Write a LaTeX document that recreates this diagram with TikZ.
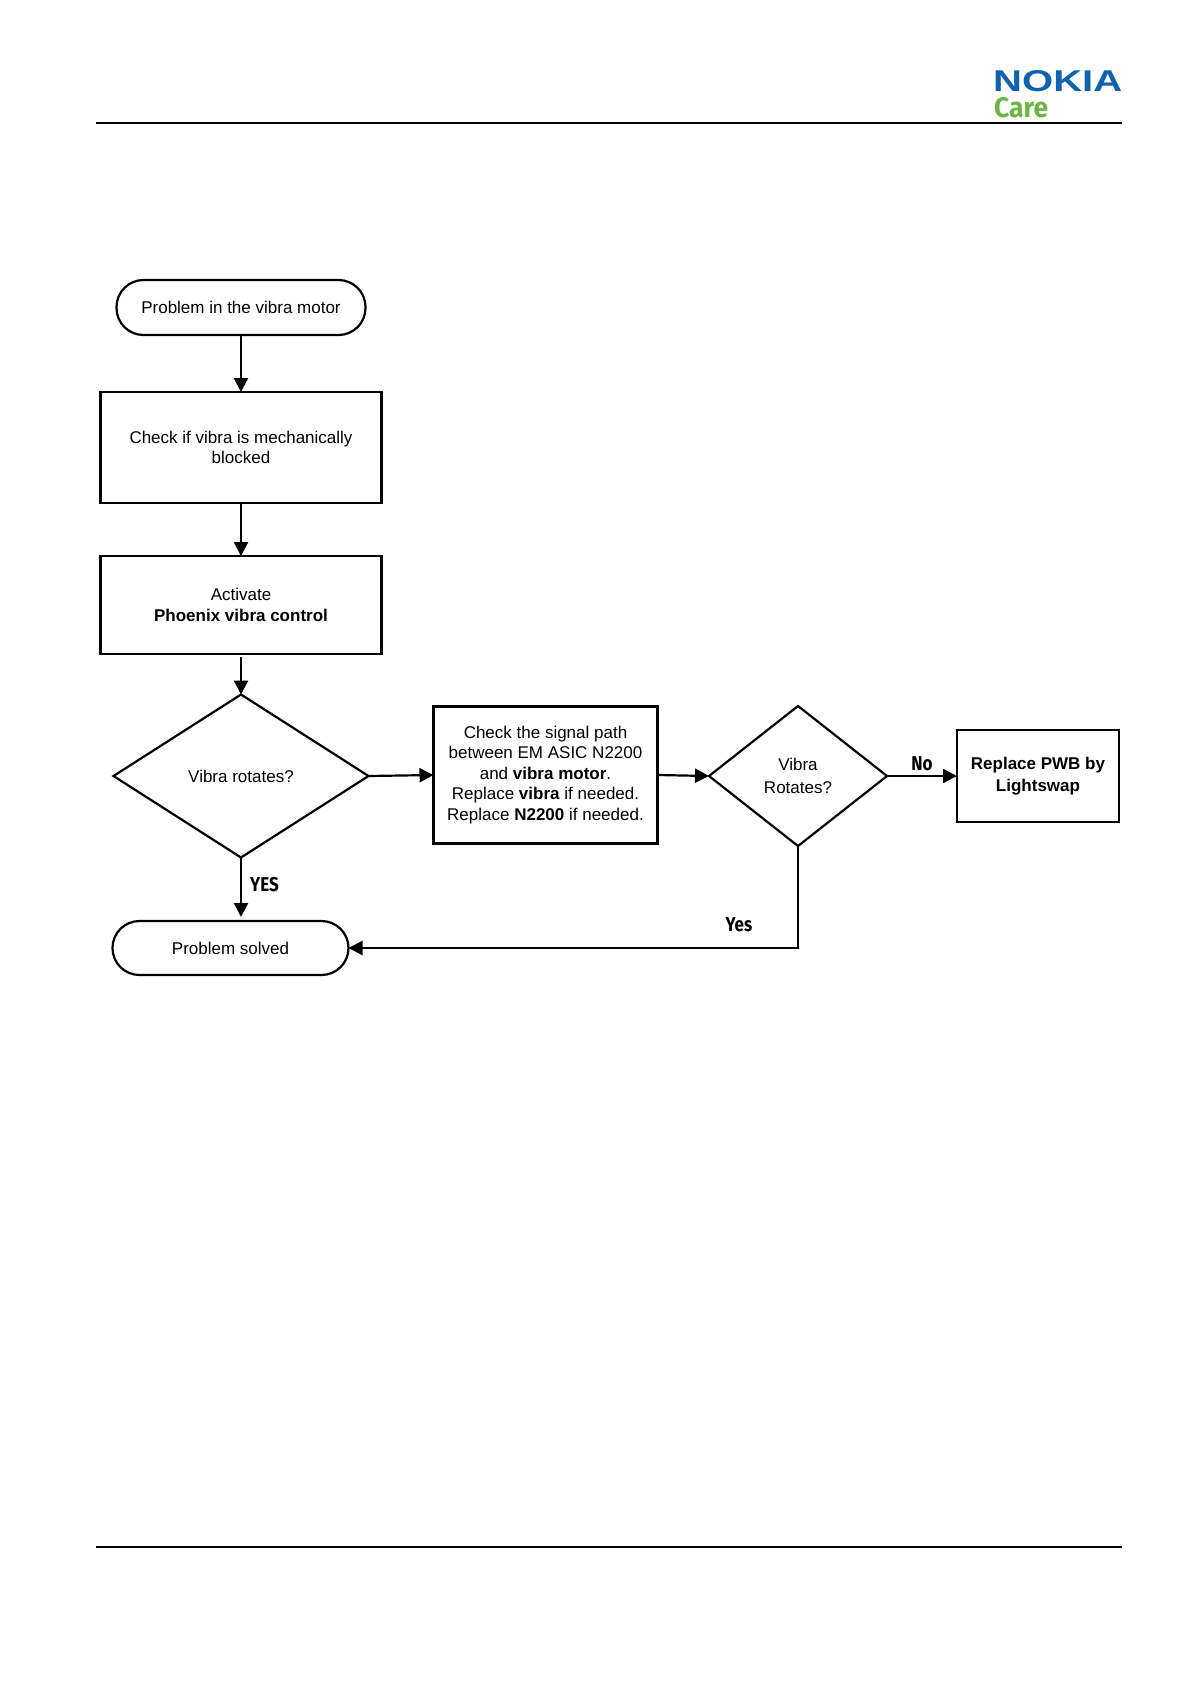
\documentclass[tikz,border=0pt]{standalone}
\usepackage{fontspec}
\usepackage{xcolor}
\usepackage{tikz}
\usetikzlibrary{arrows.meta,shapes.geometric}
\setmainfont{Liberation Sans}
\newfontfamily\carefont[FakeStretch=0.85]{Fira Sans}
\definecolor{nokiablue}{HTML}{0F62AE}
\definecolor{caregreen}{HTML}{6CB544}
\tikzset{
    flowtext/.style={align=center,inner sep=0pt,outer sep=0pt,line width=2.2pt,font=\fontsize{17}{20.5}\selectfont},
    flowbox/.style={flowtext,draw,rectangle},
    flowpill/.style={flowtext,draw,rectangle,rounded corners=27pt},
    flowdiam/.style={flowtext,draw,diamond},
    flowline/.style={line width=2.2pt,-{Triangle[length=14pt,width=14pt]}},
    answer/.style={inner sep=0pt,font=\carefont\bfseries\fontsize{20}{20}\selectfont}
}
\begin{document}
\begin{tikzpicture}[x=1pt,y=-1pt]
    \useasboundingbox (0,0) rectangle (1191,1684);

    \coordinate (headl) at (96,123);
    \coordinate (headr) at (1122,123);
    \coordinate (footl) at (96,1547);
    \coordinate (footr) at (1122,1547);
    \draw[line width=2.2pt] (headl) -- (headr);
    \draw[line width=2.2pt] (footl) -- (footr);

    \node[anchor=west,inner sep=0pt,text=nokiablue] (nokia) at (993,81) {\resizebox{129pt}{21pt}{\bfseries NOKIA}};
    \node[anchor=west,inner sep=0pt,text=caregreen] (care) at (994,108) {\resizebox{54pt}{20pt}{\carefont\bfseries Care}};

    \node[flowpill,minimum width=249pt,minimum height=55pt] (motor) at (241,307.5) {Problem in the vibra motor};
    \node[flowbox,minimum width=281pt,minimum height=111pt] (blocked) at (241,447.5) {Check if vibra is mechanically\\blocked};
    \node[flowbox,minimum width=281pt,minimum height=98pt] (activate) at (241,605) {Activate\\\textbf{Phoenix vibra control}};
    \node[flowdiam,aspect=1.56,minimum width=255pt,minimum height=163pt] (rotates) at (241,776) {Vibra rotates?};
    \node[flowbox,minimum width=224pt,minimum height=137pt] (signal) at (545.5,775) {Check the signal path\\between EM ASIC N2200\\and \textbf{vibra motor}.\\Replace \textbf{vibra} if needed.\\Replace \textbf{N2200} if needed.};
    \node[flowdiam,aspect=1.27,minimum width=178pt,minimum height=140pt,font=\fontsize{17}{22.5}\selectfont] (rotatesb) at (798,776) {Vibra\\Rotates?};
    \node[flowbox,minimum width=162pt,minimum height=92pt,font=\fontsize{17}{22.5}\selectfont\bfseries] (lightswap) at (1038,776) {Replace PWB by\\Lightswap};
    \node[flowpill,minimum width=236pt,minimum height=54pt] (solved) at (230.5,948) {Problem solved};

    \draw[flowline] (motor) -- (blocked);
    \draw[flowline] (blocked) -- (activate);
    \draw[flowline,shorten <=3pt] (activate) -- (rotates);
    \draw[flowline] (rotates.east) -- (signal.west);
    \draw[flowline] (signal.east) -- (rotatesb.west);
    \draw[flowline] (rotatesb.east) -- (lightswap.west);
    \draw[flowline,shorten >=4pt] (rotates.south) -- (rotates.south |- solved.north);
    \draw[flowline] (rotatesb.south) |- (solved.east);

    \node[answer] (yeslabel) at (264.5,884.5) {YES};
    \node[answer] (nolabel) at (922,763.5) {No};
    \node[answer] (yeslabelb) at (739,925) {Yes};
\end{tikzpicture}
\end{document}
